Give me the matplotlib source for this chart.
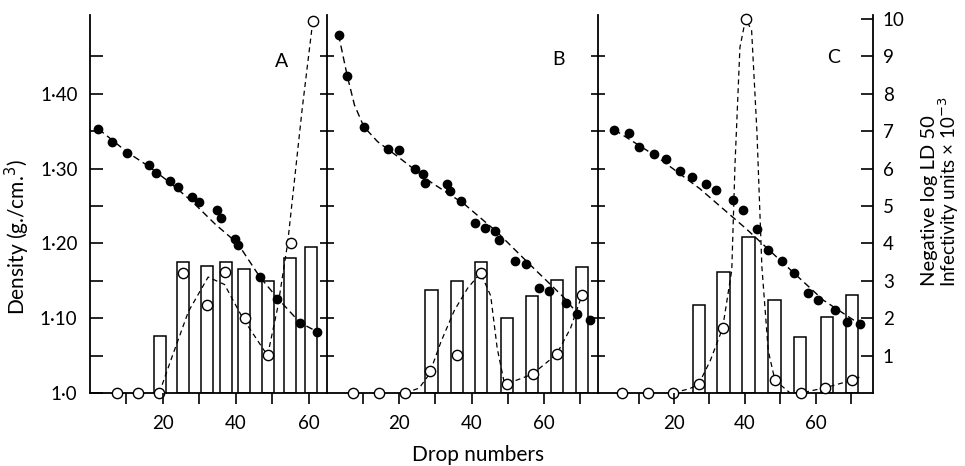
import matplotlib.pyplot as plt

plt.rcParams['font.family'] = ['Lato', 'DejaVu Sans']
plt.rcParams['font.size'] = 13.5

# ---- panel A ----
a_drop = [2.3, 6.1, 10.2, 16.1, 18.1, 21.9, 24.0, 27.9, 29.8, 34.7, 35.8, 39.7, 40.6, 46.6, 51.4, 57.6, 62.3]
a_dens = [1.353, 1.336, 1.321, 1.305, 1.294, 1.284, 1.276, 1.262, 1.255, 1.244, 1.234, 1.206, 1.198, 1.155, 1.126, 1.094, 1.082]
a_fit_drop = [2.3, 10.2, 16.1, 22, 28, 34.5, 40.5, 46.6, 51.4, 57.6, 62.3]
a_fit_dens = [1.353, 1.322, 1.303, 1.281, 1.256, 1.225, 1.200, 1.155, 1.127, 1.094, 1.082]
a_ld_drop = [7.3, 13.2, 19.0, 25.6, 32.2, 36.9, 42.4, 48.9, 55.1, 61.1]
a_ld = [0, 0, 0, 3.2, 2.34, 3.24, 2.0, 1.02, 4.01, 9.94]
a_ldc_drop = [19.0, 22.4, 27.0, 32.4, 36.9, 41.9, 48.7, 51.5, 54.2, 58.2, 61.1]
a_ldc = [0, 0.94, 2.18, 3.1, 2.9, 2.0, 1.0, 2.3, 4.0, 7.6, 9.94]
a_bar_drop = [19.3, 25.6, 32.2, 37.2, 42.2, 48.9, 54.9, 60.6]
a_bar = [1.52, 3.49, 3.39, 3.49, 3.31, 3.0, 3.6, 3.9]

# ---- panel B ----
b_drop = [3.2, 5.6, 10.2, 16.8, 20.0, 24.3, 26.5, 27.2, 33.1, 34.0, 37.0, 40.9, 43.6, 46.4, 47.6,
          52.0, 55.2, 58.6, 61.4, 66.2, 69.2, 72.7]
b_dens = [1.479, 1.424, 1.356, 1.326, 1.325, 1.299, 1.293, 1.281, 1.279, 1.270, 1.257, 1.227, 1.220,
          1.217, 1.204, 1.177, 1.173, 1.141, 1.137, 1.120, 1.105, 1.097]
b_fit_drop = [3.2, 5.6, 7.6, 10.2, 14.0, 19.6, 28.7, 37.9, 47.1, 56.3, 65.5, 69.7]
b_fit_dens = [1.479, 1.424, 1.385, 1.356, 1.336, 1.316, 1.282, 1.253, 1.215, 1.171, 1.128, 1.104]
b_ld_drop = [7.1, 14.5, 21.6, 28.5, 35.9, 42.5, 49.7, 57.0, 63.7, 70.6]
b_ld = [0, 0, 0, 0.6, 1.01, 3.21, 0.25, 0.5, 1.03, 2.63]
b_ldc_drop = [21.6, 25.5, 28.3, 31.5, 35.2, 38.9, 42.5, 45.3, 47.1, 49.0, 49.9, 56.8, 63.5, 67.4, 70.6]
b_ldc = [0, 0.13, 0.5, 1.36, 2.2, 2.8, 3.21, 2.6, 1.2, 0.3, 0.25, 0.5, 1.03, 1.73, 2.63]
b_bar_drop = [28.9, 36.0, 42.7, 49.8, 56.8, 63.6, 70.5]
b_bar = [2.75, 3.0, 3.5, 2.0, 2.6, 3.02, 3.38]

# ---- panel C ----
c_drop = [3.1, 7.4, 10.1, 14.4, 17.6, 21.7, 25.0, 29.0, 31.8, 36.6, 39.6, 43.5, 46.6, 50.6, 53.9,
          57.8, 60.8, 65.5, 68.8, 72.5]
c_dens = [1.352, 1.347, 1.329, 1.320, 1.313, 1.297, 1.289, 1.280, 1.271, 1.258, 1.244, 1.219, 1.191,
          1.176, 1.161, 1.134, 1.125, 1.111, 1.095, 1.092]
c_fit_drop = [3.1, 15.1, 27.3, 40.5, 52.8, 62.2, 74.4]
c_fit_dens = [1.352, 1.316, 1.273, 1.219, 1.165, 1.124, 1.086]
c_ld_drop = [5.2, 12.5, 19.8, 26.9, 33.7, 40.2, 48.5, 55.8, 62.7, 70.2]
c_ld = [0, 0, 0, 0.23, 1.73, 10.0, 0.34, 0, 0.14, 0.34]
c_ldc_drop = [19.8, 24.5, 26.9, 30.2, 33.7, 36.3, 37.2, 38.6, 40.2, 41.9, 43.4, 44.8, 46.6, 48.5,
              52.8, 55.8, 62.7, 70.2, 73.1]
c_ldc = [0, 0.12, 0.23, 0.86, 1.73, 3.29, 6.09, 9.24, 10.0, 9.7, 7.0, 3.38, 1.13, 0.34,
         0, 0, 0.14, 0.34, 0.45]
c_bar_drop = [27.0, 34.0, 41.0, 48.4, 55.5, 63.2, 70.3]
c_bar = [2.35, 3.23, 4.16, 2.5, 1.51, 2.03, 2.61]

panels = [
    ('A', (0, 65), a_drop, a_dens, a_fit_drop, a_fit_dens, a_ld_drop, a_ld, a_ldc_drop, a_ldc, a_bar_drop, a_bar, 3.3),
    ('B', (0, 75), b_drop, b_dens, b_fit_drop, b_fit_dens, b_ld_drop, b_ld, b_ldc_drop, b_ldc, b_bar_drop, b_bar, 3.4),
    ('C', (-1.5, 76.2), c_drop, c_dens, c_fit_drop, c_fit_dens, c_ld_drop, c_ld, c_ldc_drop, c_ldc, c_bar_drop, c_bar, 3.5),
]
letter_pos = {'A': (281.7, 61.7), 'B': (558.3, 60), 'C': (833.3, 57.3)}
edges_px = [90, 327, 598, 873]
W, H = 965, 466


def fx_(x):
    return x / W


def fy_(y):
    return 1 - y / H


fig = plt.figure(figsize=(9.65, 4.66), dpi=100)
bottom = 1 - 393 / H
height = 0.505 * 748 / H

dens_major = [1.0, 1.1, 1.2, 1.3, 1.4]
dens_minor = [1.05, 1.15, 1.25, 1.35, 1.45]
dens_labels = ['1·0', '1·10', '1·20', '1·30', '1·40']

for i, (name, xlim, dx, dy, fx, fy, lx, ly, lcx, lcy, bx, by, bw) in enumerate(panels):
    left = edges_px[i] / W
    width = (edges_px[i + 1] - edges_px[i]) / W
    ax = fig.add_axes([left, bottom, width, height])
    axu = ax.twinx()
    ax.set_zorder(axu.get_zorder() + 1)
    ax.patch.set_visible(False)

    ax.set_xlim(*xlim)
    ax.set_ylim(1.0, 1.505)
    axu.set_ylim(0, 10.1)

    # bars and LD50 on the right-hand scale
    axu.bar(bx, by, width=bw, facecolor='white', edgecolor='black', linewidth=1.1, zorder=1)
    axu.plot(lcx, lcy, color='black', lw=0.9, dashes=(4, 3), zorder=3)
    axu.plot(lx, ly, 'o', ms=7.4, mfc='white', mec='black', mew=1.0, zorder=5, clip_on=False)

    # density
    ax.plot(fx, fy, color='black', lw=1.0, dashes=(5, 3), zorder=3)
    ax.plot(dx, dy, 'o', ms=6.0, color='black', zorder=4, clip_on=False)

    for s in ['top', 'right', 'bottom']:
        ax.spines[s].set_visible(False)
    for s in ['top', 'left', 'right']:
        axu.spines[s].set_visible(False)
    for sp in list(ax.spines.values()) + list(axu.spines.values()):
        sp.set_linewidth(1.3)

    ax.set_xticks([20, 40, 60])
    ax.set_xticks([10, 30, 50, 70] if xlim[1] > 70 else [10, 30, 50], minor=True)
    ax.tick_params(axis='x', which='both', direction='out', length=8, width=1.2, pad=8)

    if i == 0:
        ax.set_yticks(dens_major)
        ax.set_yticklabels(dens_labels)
        ax.set_yticks(dens_minor, minor=True)
        ax.tick_params(axis='y', which='both', direction='in', length=9, width=1.2, pad=9)
    else:
        ax.set_yticks([1.1, 1.2, 1.3, 1.4])
        ax.set_yticks(dens_minor, minor=True)
        ax.tick_params(axis='y', which='both', direction='inout', length=10, width=1.2, labelleft=False)

    if i == 2:
        axu.spines['right'].set_visible(True)
        axu.set_yticks(range(1, 11))
        axu.tick_params(axis='y', direction='in', length=9, width=1.2, pad=7)
    else:
        axu.set_yticks([])

    lxp, lyp = letter_pos[name]
    fig.text(fx_(lxp), fy_(lyp), name, ha='center', va='center', fontsize=14)

fig.text(fx_(17), fy_(237), 'Density (g./cm.$^3$)', rotation=90, ha='center', va='center', fontsize=15)
fig.text(fx_(478), fy_(455), 'Drop numbers', ha='center', va='center', fontsize=15)
fig.text(fx_(929), fy_(201), 'Negative log LD 50', rotation=90, ha='center', va='center', fontsize=14.5)
fig.text(fx_(949), fy_(192), 'Infectivity units × 10$^{-3}$', rotation=90, ha='center', va='center', fontsize=13.5)

fig.savefig('out.png', dpi=100)
